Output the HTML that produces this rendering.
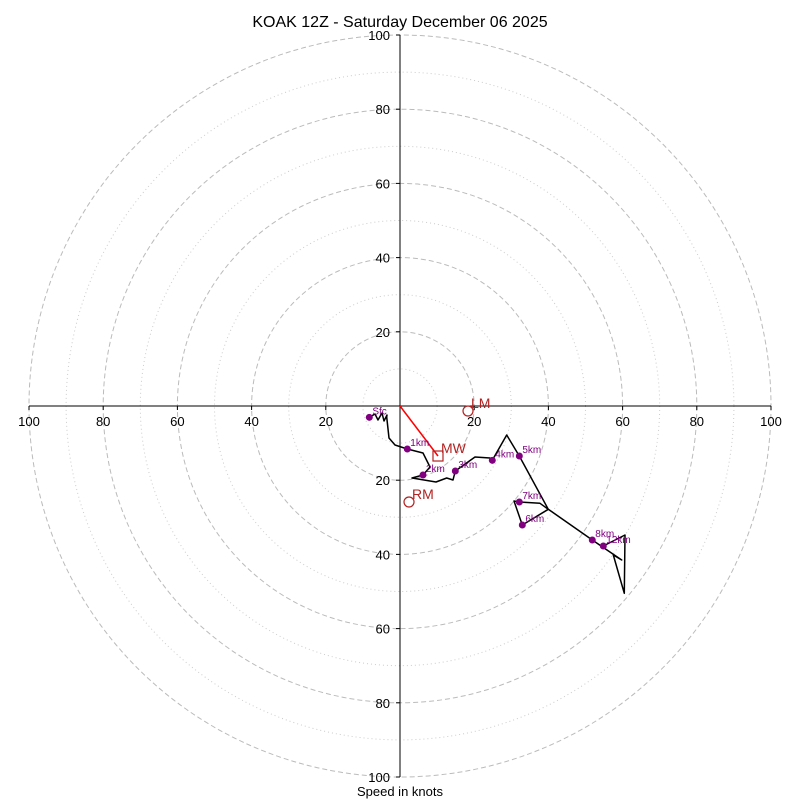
<!DOCTYPE html>
<html><head><meta charset="utf-8"><style>
body{margin:0;background:#fff}
svg{display:block;font-family:"Liberation Sans","DejaVu Sans",sans-serif}
</style></head><body>
<svg id="c" width="800" height="800" viewBox="0 0 800 800">
<rect width="800" height="800" fill="#fff"/>
<text x="400" y="27" text-anchor="middle" font-size="16">KOAK 12Z - Saturday December 06 2025</text>
<g id="rings"></g><g id="axes"></g><g id="marks"></g>
<text x="400" y="796" text-anchor="middle" font-size="13">Speed in knots</text>
</svg>
<script>
const ringValues=[10,20,30,40,50,60,70,80,90,100];
const tickValues=[20,40,60,80,100];
const pathU=[-8.27,-6.74,-5.93,-4.85,-4.31,-3.50,-3.58,-2.96,-1.35,1.97,6.20,8.09,6.20,3.23,9.70,12.59,14.29,14.91,20.22,24.26,24.88,28.76,32.16,39.97,37.74,32.16,30.73,32.97,39.97,51.83,59.76,57.49,60.46,60.65,54.80];
const pathV=[-3.05,-2.16,-3.77,-1.89,-4.04,-2.43,-2.96,-8.63,-10.51,-11.59,-12.67,-16.44,-18.60,-19.41,-20.49,-19.41,-19.95,-17.52,-13.75,-14.02,-14.64,-7.82,-13.48,-27.84,-26.23,-25.88,-25.61,-32.08,-27.84,-36.12,-41.51,-40.16,-50.49,-34.77,-37.74];
const levelNames=["Sfc","1km","2km","3km","4km","5km","6km","7km","8km","12km"];
const levelU=[-8.27,1.97,6.20,14.91,24.88,32.16,32.97,32.16,51.83,54.80];
const levelV=[-3.05,-11.59,-18.60,-17.52,-14.64,-13.48,-32.08,-25.88,-36.12,-37.74];
const motionNames=["RM","LM","MW"];
const motionU=[2.43,18.33,10.24];
const motionV=[-25.88,-1.35,-13.48];

const NS="http://www.w3.org/2000/svg";
const cx=400,cy=406,R=371,maxK=100;
const sx=u=>cx+u*R/maxK, sy=v=>cy-v*R/maxK, sr=k=>k*R/maxK;
function mk(tag,attrs,parent){const e=document.createElementNS(NS,tag);for(const k in attrs)e.setAttribute(k,attrs[k]);parent.appendChild(e);return e;}
const rings=document.getElementById('rings'),axes=document.getElementById('axes'),marks=document.getElementById('marks');
ringValues.forEach(k=>{
  const even=k%20===0;
  const c=mk('circle',{cx:cx,cy:cy,r:sr(k),fill:'none',stroke:even?'#bbb':'#ccc','stroke-width':1,'stroke-dasharray':even?'5,3':'1,3'},rings);
  
  
});
let l=mk('line',{x1:sx(-maxK),y1:cy,x2:sx(maxK),y2:cy,stroke:'#000','stroke-width':1},axes);


l=mk('line',{x1:cx,y1:sy(maxK),x2:cx,y2:sy(-maxK),stroke:'#000','stroke-width':1},axes);


tickValues.forEach(k=>{
  [k,-k].forEach(s=>{
    mk('line',{x1:sx(s),y1:cy,x2:sx(s),y2:cy+4,stroke:'#000'},axes);
    const t=mk('text',{x:sx(s),y:cy+20,'text-anchor':'middle','font-size':13},axes);
    t.textContent=k;
    
    
    mk('line',{x1:cx-4,y1:sy(s),x2:cx,y2:sy(s),stroke:'#000'},axes);
    const t2=mk('text',{x:cx-10,y:sy(s)+5,'text-anchor':'end','font-size':13},axes);
    t2.textContent=k;
    
    
  });
});
// storm motion arrow
let ar=mk('line',{x1:sx(0),y1:sy(0),x2:sx(motionU[2]),y2:sy(motionV[2]),stroke:'red','stroke-width':1.5},marks);


const pts=pathU.map((u,i)=>sx(u).toFixed(1)+','+sy(pathV[i]).toFixed(1)).join(' ');
const pl=mk('polyline',{points:pts,fill:'none',stroke:'#000','stroke-width':1.5,'stroke-linejoin':'round'},marks);


levelNames.forEach((n,i)=>{
  const d=mk('circle',{cx:sx(levelU[i]),cy:sy(levelV[i]),r:3.5,fill:'purple'},marks);
  
  
  const t=mk('text',{x:sx(levelU[i])+3,y:sy(levelV[i])-3,'font-size':10,fill:'purple'},marks);
  t.textContent=n;
  
  
});
motionNames.forEach((n,i)=>{
  const x=sx(motionU[i]),y=sy(motionV[i]);
  let m;
  if(n==='MW') m=mk('rect',{x:x-5,y:y-5,width:10,height:10,fill:'none',stroke:'#b22222','stroke-width':1.2},marks);
  else m=mk('circle',{cx:x,cy:y,r:5,fill:'none',stroke:'#b22222','stroke-width':1.2},marks);
  
  
  const t=mk('text',{x:x+3,y:y-3,'font-size':14,fill:'#b22222'},marks);
  t.textContent=n;
  
  
});
</script>
</body></html>
